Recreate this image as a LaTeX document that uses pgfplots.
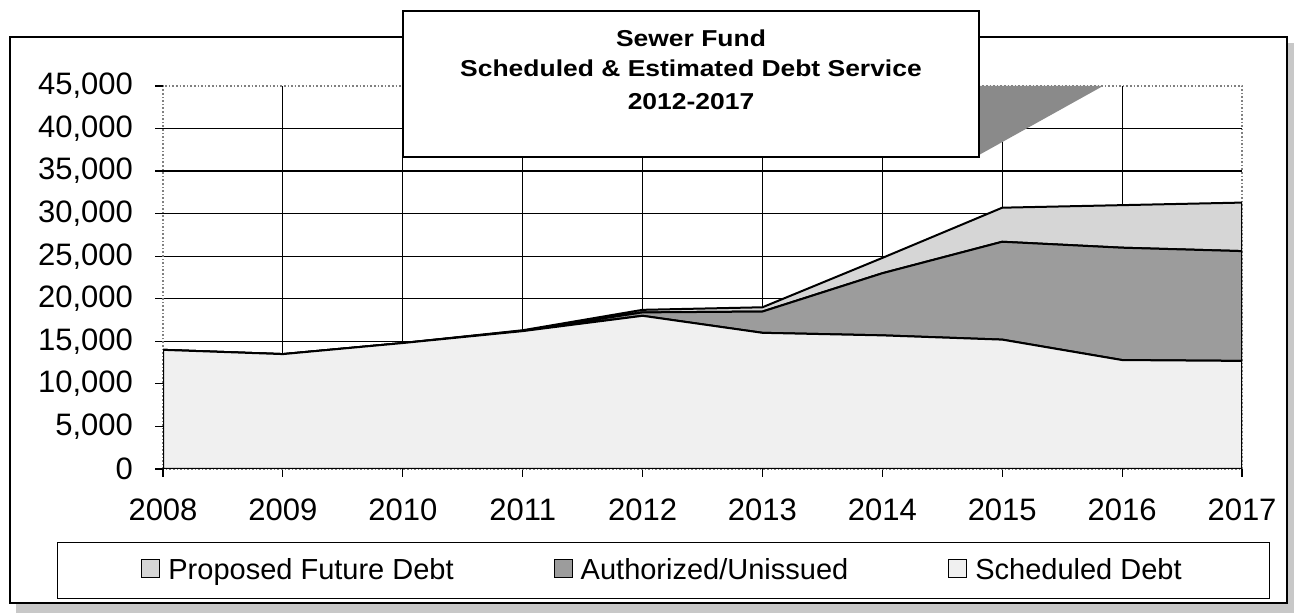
\documentclass[border=0pt]{standalone}
\usepackage{fontspec}
\setmainfont{Liberation Sans}
\newfontfamily\titlefont[FakeStretch=1.15]{Liberation Sans}
\usepackage{pgfplots}
\usepackage{pgfplotstable}
\pgfplotsset{compat=1.18}
\definecolor{schedfill}{HTML}{F0F0F0}
\definecolor{authfill}{HTML}{9C9C9C}
\definecolor{propfill}{HTML}{D6D6D6}
\definecolor{shadowgray}{HTML}{C8C8C8}
\definecolor{trigray}{HTML}{8A8A8A}
\pgfplotstableread{
x sched auth prop
0 14000 0 0
1 13500 0 0
2 14800 0 0
3 16200 50 50
4 18000 400 300
5 16000 2500 500
6 15700 7300 1800
7 15200 11500 4000
8 12800 13200 5000
9 12700 12900 5700
}\debtdata
\begin{document}
\begin{tikzpicture}
\useasboundingbox (0pt,0pt) rectangle (647pt,306.5pt);
% chart area shadow and frame
\fill[shadowgray] (643.5pt,0pt) rectangle (647pt,285pt);
\fill[shadowgray] (8pt,0pt) rectangle (647pt,5pt);
\draw[black, line width=0.6pt, fill=white] (5pt,5pt) rectangle (643.5pt,288pt);
\begin{axis}[
  at={(81.5pt,72pt)}, anchor=origin,
  scale only axis, width=539.5pt, height=191.5pt,
  xmin=0, xmax=9, ymin=0, ymax=45000,
  stack plots=y,
  xtick={1,...,8}, xticklabels={2009,2010,2011,2012,2013,2014,2015,2016},
  extra x ticks={0,9}, extra x tick labels={2008,2017},
  extra x tick style={grid=none},
  ytick={5000,10000,...,40000},
  extra y ticks={0,45000},
  extra y tick style={grid=none},
  scaled y ticks=false,
  /pgf/number format/.cd, 1000 sep={,}, assume math mode=true, /pgfplots/.cd,
  xmajorgrids, ymajorgrids,
  grid style={black, line width=0.6pt},
  axis line style={gray, densely dotted, line width=0.8pt},
  tick align=outside, major tick length=4pt,
  tick style={black, line width=0.6pt, solid},
  xtick pos=bottom, ytick pos=left,
  ticklabel style={font=\fontsize{15.5}{18}\selectfont},
  xticklabel style={yshift=-7.5pt},
  yticklabel style={xshift=-7.5pt},
  reverse legend,
  legend columns=3,
  legend style={at={(0.4639,-0.266)}, anchor=center, draw=black, line width=0.6pt,
    font=\fontsize{14.5}{17}\selectfont, inner xsep=42pt, inner ysep=6pt,
    /tikz/every even column/.append style={column sep=48pt},
    /tikz/every odd column/.append style={column sep=2pt}},
  legend image code/.code={\draw[#1, line width=0.5pt] (0pt,-3.5pt) rectangle (9pt,5.5pt);},
]
\addplot[fill=schedfill, draw=black, line width=1pt] table[x=x,y=sched]{\debtdata} \closedcycle;
\addplot[fill=authfill, draw=black, line width=1pt] table[x=x,y=auth]{\debtdata} \closedcycle;
\addplot[fill=propfill, draw=black, line width=1pt] table[x=x,y=prop]{\debtdata} \closedcycle;
\legend{Scheduled Debt, Authorized/Unissued, Proposed Future Debt}
\end{axis}
% title box with its shadow
\fill[trigray] (489.5pt,263.5pt) -- (551.5pt,263.5pt) -- (489.5pt,229pt) -- cycle;
\draw[black, line width=1pt, fill=white] (201.5pt,228pt) rectangle (489.5pt,301pt);
\node[anchor=base, font=\titlefont\bfseries\fontsize{11.5}{13}\selectfont] at (345.5pt,283pt) {Sewer Fund};
\node[anchor=base, font=\titlefont\bfseries\fontsize{11.5}{13}\selectfont] at (345.5pt,268pt) {Scheduled \& Estimated Debt Service};
\node[anchor=base, font=\titlefont\bfseries\fontsize{11.5}{13}\selectfont] at (345.5pt,251.5pt) {2012-2017};
\end{tikzpicture}
\end{document}
